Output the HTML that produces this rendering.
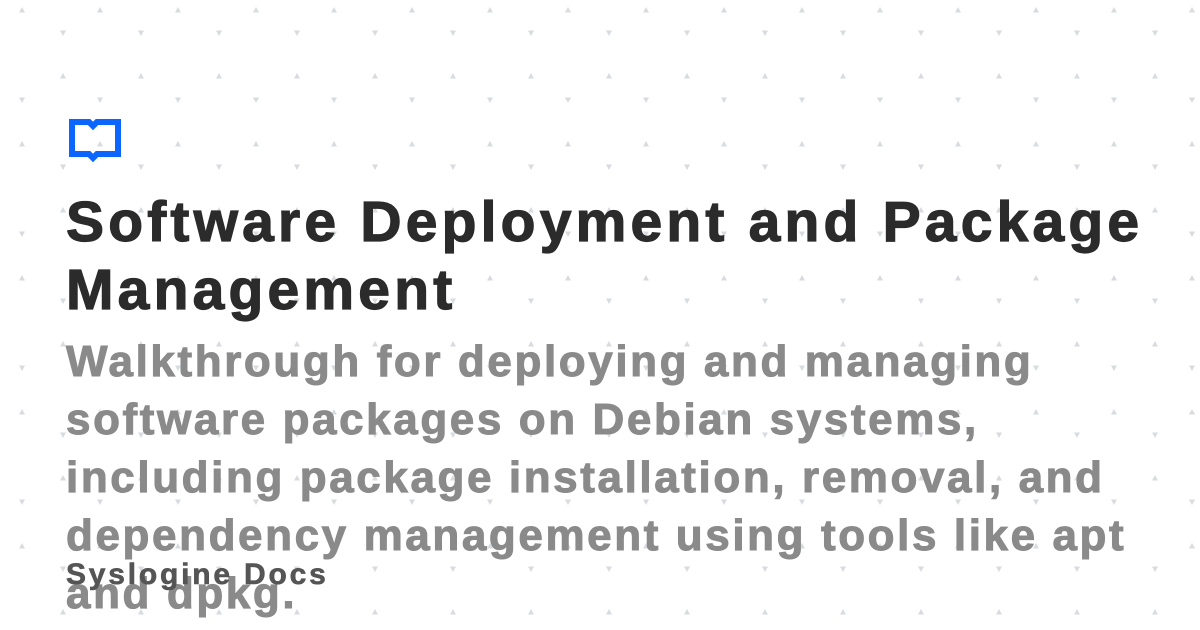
<!DOCTYPE html>
<html><head><meta charset="utf-8"><style>
html,body{margin:0;padding:0;}
body{width:1200px;height:630px;position:relative;overflow:hidden;background:#fff;font-family:"Liberation Sans",sans-serif;}
.t{position:absolute;left:66px;white-space:nowrap;font-weight:bold;}
#title{top:188px;font-size:57px;line-height:68px;color:#2b2b2b;letter-spacing:4.2px;-webkit-text-stroke:1.2px #2b2b2b;}
#sub{top:333px;font-size:44px;line-height:58px;color:#8a8a8a;letter-spacing:2.6px;-webkit-text-stroke:1px #8a8a8a;}
#brand{top:557px;font-size:30px;line-height:36px;color:#555;letter-spacing:2.8px;-webkit-text-stroke:0.6px #555;}
</style></head><body>
<svg width="1200" height="630" style="position:absolute;left:0;top:0">
<defs><pattern id="p" width="78" height="134" patternUnits="userSpaceOnUse" x="0" y="0">
<path d="M19,12.5 L22,7 L25,12.5Z" fill="#d8dbe0"/>
<path d="M60,30.5 L63,36 L66,30.5Z" fill="#d8dbe0"/>
<path d="M60,78.5 L63,73 L66,78.5Z" fill="#d8dbe0"/>
<path d="M19,97.5 L22,103 L25,97.5Z" fill="#d8dbe0"/>
</pattern></defs>
<rect width="1200" height="630" fill="url(#p)"/>
<path d="M72,122 H89 L93,126 L97,122 H118 V154 H97 L93,158 L89,154 H72Z" fill="none" stroke="#0a66ff" stroke-width="6" stroke-linejoin="miter"/>
</svg>
<div class="t" id="title">Software Deployment and Package<br>Management</div>
<div class="t" id="sub">Walkthrough for deploying and managing<br>software packages on Debian systems,<br>including package installation, removal, and<br>dependency management using tools like apt<br>and dpkg.</div>
<div class="t" id="brand">Syslogine Docs</div>
</body></html>
